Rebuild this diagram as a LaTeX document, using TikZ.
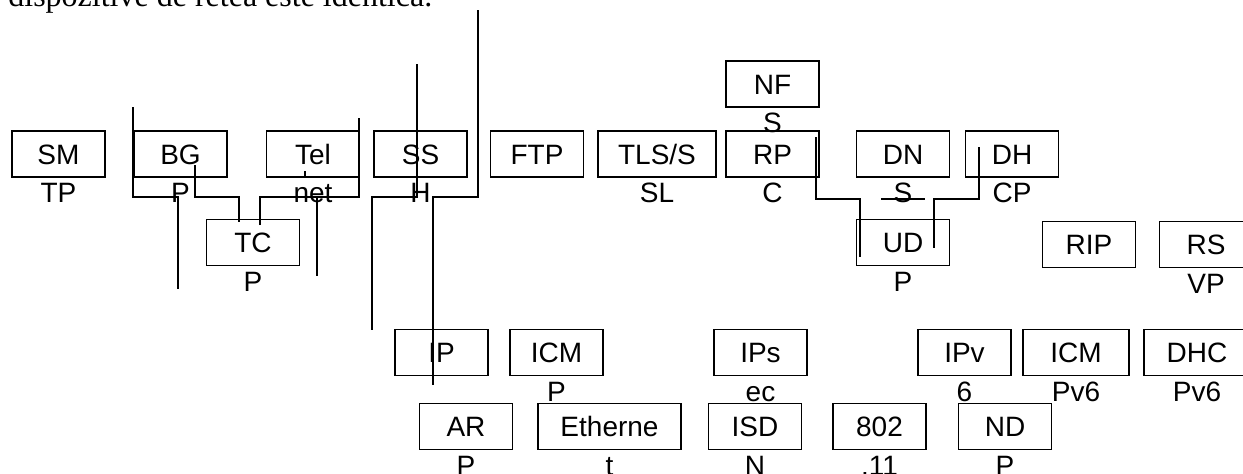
\documentclass[tikz,border=0pt]{standalone}
\usepackage{fontspec}
\setmainfont{Liberation Sans}
\newfontfamily\bodyserif{Liberation Serif}
\usepackage{tikz}
\tikzset{
  protobox/.style={draw=black,line width=0.75pt,minimum width=46.5pt,minimum height=23pt,
    inner sep=0pt,font=\fontsize{14}{16}\selectfont,text height=10pt,text depth=0pt},
  protosub/.style={inner sep=0pt,font=\fontsize{14}{16}\selectfont,
    text height=10pt,text depth=0pt},
  wire/.style={line width=0.75pt,draw=black},
}

\begin{document}
\begin{tikzpicture}[x=0.5pt,y=-0.5pt]
  \clip (0,0) rectangle (1243,473);
  % Text line cut off at the top
  \node[anchor=base west,inner sep=0pt,font=\bodyserif\fontsize{16}{18}\selectfont]
    (caption) at (8,6) {dispozitive de retea este identica.};
  % Upper row
  \node[protobox] (sm)  at (58.5,154) {SM};
  \node[protobox] (bg)  at (180.5,154) {BG};
  \node[protobox] (tel) at (313,154) {Tel};
  \node[protobox] (ss)  at (420.5,154) {SS};
  \node[protobox] (ftp) at (537,154) {FTP};
  \node[protobox,minimum width=59pt] (tls) at (657,154) {TLS/S};
  \node[protobox] (rp)  at (772.5,154) {RP};
  \node[protobox] (nf)  at (772.5,84) {NF};
  \node[protobox] (dn)  at (903,154) {DN};
  \node[protobox] (dh)  at (1012,154) {DH};
  \node[protosub] (smL)  at (58.5,192.5) {TP};
  \node[protosub] (bgL)  at (180.5,192.5) {P};
  \node[protosub] (telL) at (313,192.5) {net};
  \node[protosub] (ssL)  at (420.5,192.5) {H};
  \node[protosub] (tlsL) at (657,192.5) {SL};
  \node[protosub] (rpL)  at (772.5,192.5) {C};
  \node[protosub] (nfL)  at (772.5,122.5) {S};
  \node[protosub] (dnL)  at (903,192.5) {S};
  \node[protosub] (dhL)  at (1012,192.5) {CP};
  % Middle row
  \node[protobox] (tc)  at (253,242.5) {TC};
  \node[protobox] (ud)  at (903,242.5) {UD};
  \node[protobox] (rip) at (1089,244.5) {RIP};
  \node[protobox] (rs)  at (1206,244.5) {RS};
  \node[protosub] (tcL) at (253,281) {P};
  \node[protosub] (udL) at (903,281) {P};
  \node[protosub] (rsL) at (1206,283) {VP};
  % Network row
  \node[protobox] (ip)     at (441.5,352.5) {IP};
  \node[protobox] (icmp)   at (556.5,352.5) {ICM};
  \node[protobox] (ipsec)  at (760.5,352.5) {IPs};
  \node[protobox] (ipv6)   at (964.5,352.5) {IPv};
  \node[protobox,minimum width=53pt] (icmpv6) at (1076,352.5) {ICM};
  \node[protobox,minimum width=53pt] (dhcpv6) at (1197,352.5) {DHC};
  \node[protosub] (icmpL)   at (556.5,391) {P};
  \node[protosub] (ipsecL)  at (760.5,391) {ec};
  \node[protosub] (ipv6L)   at (964.5,391) {6};
  \node[protosub] (icmpv6L) at (1076,391) {Pv6};
  \node[protosub] (dhcpv6L) at (1197,391) {Pv6};
  % Link row
  \node[protobox] (arp)  at (466,426.5) {AR};
  \node[protobox,minimum width=71.5pt] (eth) at (609.5,426.5) {Etherne};
  \node[protobox] (isdn) at (755,426.5) {ISD};
  \node[protobox] (wifi) at (879.5,426.5) {802};
  \node[protobox] (ndp)  at (1005,426.5) {ND};
  \node[protosub] (arpL)  at (466,465) {P};
  \node[protosub] (ethL)  at (609.5,465) {t};
  \node[protosub] (isdnL) at (755,465) {N};
  \node[protosub] (wifiL) at (879.5,465) {.11};
  \node[protosub] (ndpL)  at (1005,465) {P};
  % Free ends of the connectors
  \coordinate (bgTop)  at (133,107);
  \coordinate (bgFoot) at (178,289);
  \coordinate (bgIn)   at (195,165);
  \coordinate (tcIn)   at (239,222);
  \coordinate (tcOut)  at (260,225);
  \coordinate (telTop) at (359,118);
  \coordinate (telIn)  at (305,171);
  \coordinate (telEnd) at (305,178);
  \coordinate (netTop) at (317,197);
  \coordinate (netFoot) at (317,276);
  \coordinate (ssTop)  at (417,64);
  \coordinate (ssFoot) at (372,330);
  \coordinate (hiTop)  at (478,10);
  \coordinate (ipFoot) at (433,385);
  \coordinate (rpIn)   at (816,137);
  \coordinate (udIn)   at (860,257);
  \coordinate (dhIn)   at (979,147);
  \coordinate (udEnd)  at (934,248);
  \coordinate (dnLa)   at (881,199);
  \coordinate (dnLb)   at (925,199);
  % Connectors
  \draw[wire] (bgTop) -- (133,197) -- (178,197) -- (bgFoot);
  \draw[wire] (bgIn) -- (195,197) -- (239,197) -- (tcIn);
  \draw[wire] (tcOut) -- (260,197) -- (359,197) -- (telTop);
  \draw[wire] (telIn) -- (telEnd);
  \draw[wire] (netTop) -- (netFoot);
  \draw[wire] (ssTop) -- (417,197) -- (372,197) -- (ssFoot);
  \draw[wire] (hiTop) -- (478,197) -- (433,197) -- (ipFoot);
  \draw[wire] (rpIn) -- (816,199) -- (860,199) -- (udIn);
  \draw[wire] (dhIn) -- (979,199) -- (934,199) -- (udEnd);
  \draw[wire] (dnLa) -- (dnLb);
\end{tikzpicture}
\end{document}
